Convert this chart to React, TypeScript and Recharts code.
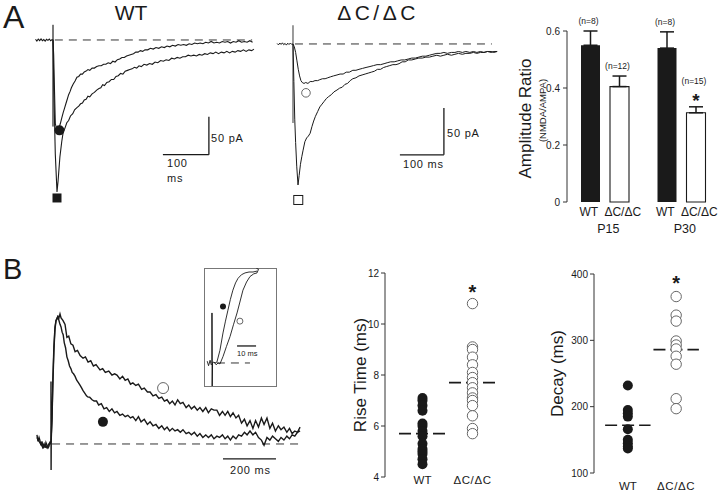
import React from "react";
import {
  Bar,
  BarChart,
  ComposedChart,
  ErrorBar,
  LabelList,
  Line,
  ReferenceDot,
  ReferenceLine,
  Scatter,
  ScatterChart,
  XAxis,
  YAxis,
} from "recharts";

const FONT = '"Liberation Sans", Arial, Helvetica, sans-serif';
const INK = "#1a1a1a";
const GREY = "#7a7a7a";
const RING = "#666";

// ---- panel A traces: [ms, pA] ----
const wtDeep = [
  [-38, 1], [-35, -1.5], [-32, 1.2], [-29, -0.8], [-26, 1.5], [-23, -1], [-20, 0.6], [-17, -1.4], [-14, 1], [-11, -0.5], [-8, 1.3], [-5, -1], [-2, 0.5], [0, 0],
  [2, -70], [5, -150], [8.7, -200], [11, -186], [15, -154], [19, -134], [22, -122], [26, -116], [30, -109], [34, -106], [38, -100], [43, -97], [47, -92], [52, -89],
  [56, -87], [60, -84], [64, -83], [68, -79], [72, -78], [76, -74], [80, -75], [85, -71], [90, -69], [95, -66], [100, -64], [104, -63], [108, -59], [112, -60],
  [117, -56], [122, -55], [127, -52], [132, -52], [137, -48], [142, -47], [147, -44], [152, -45], [157, -41], [162, -40], [167, -39], [172, -38], [177, -36],
  [182, -37], [187, -34], [192, -35], [198, -32], [204, -33], [210, -31], [216, -32], [222, -29], [228, -30], [234, -27], [240, -28], [246, -26], [252, -27],
  [258, -24], [264, -25], [270, -23], [276, -24], [282, -22], [288, -22], [294, -20], [300, -21], [306, -20], [312, -21], [318, -19], [324, -20], [330, -18],
  [336, -19], [342, -17], [348, -18], [354, -16], [360, -18], [366, -16], [372, -17], [378, -15], [384, -17], [390, -15], [396, -16], [402, -14], [408, -15],
  [414, -13], [420, -15], [426, -13], [432, -14], [437, -12],
];
const wtFast = [
  [0, 0], [1.5, -20], [3, -60], [5, -110], [8, -117], [10.9, -119], [13, -116], [16, -110], [19, -103], [22, -96], [25, -90], [28, -84], [31, -78], [34, -72],
  [37, -68], [40, -63], [44, -58], [48, -54], [52, -49], [56, -48], [60, -45], [64, -45], [68, -42], [72, -41], [76, -39], [80, -40], [85, -37], [90, -37],
  [95, -35], [100, -34], [105, -34], [110, -32], [115, -32], [120, -30], [125, -31], [130, -28], [135, -29], [140, -26], [145, -25], [150, -23], [155, -23],
  [160, -21], [165, -20], [170, -19], [175, -18], [180, -16], [185, -16], [190, -14], [195, -15], [200, -13], [206, -13], [212, -11], [218, -12], [224, -10],
  [230, -11], [236, -9], [242, -10], [248, -8], [254, -9], [260, -7], [266, -8], [272, -6], [278, -7], [284, -6], [290, -7], [296, -5], [302, -6], [308, -4],
  [314, -5], [320, -4], [326, -5], [332, -3], [338, -4], [344, -2], [350, -4], [356, -3], [362, -4], [368, -2], [374, -3], [380, -2], [386, -4], [392, -2],
  [398, -3], [404, -1], [410, -3], [416, -2], [422, -3], [428, -1], [434, -3],
];
const wtStim = [[0, 20], [0, -114]];

const dcDeep = [
  [-36, 0.5], [-33, -1], [-30, 1], [-27, -0.5], [-24, 1.2], [-21, -0.8], [-18, 0.6], [-15, -1.2], [-12, 0.8], [-9, -0.6], [-6, 1], [-3, -0.4], [0, 0],
  [2, -40], [4, -80], [6, -105], [8.5, -130], [11.4, -150], [14, -140], [17, -128], [20, -120], [23, -113], [27, -104], [31, -100], [35, -98], [39, -95],
  [43, -88], [47, -82], [51, -77], [56, -72], [61, -67], [66, -64], [71, -61], [76, -58], [81, -56], [87, -54], [93, -51], [100, -49], [106, -47], [112, -46],
  [118, -43], [124, -42], [130, -39], [136, -37], [143, -36], [150, -34], [157, -33], [164, -32], [171, -31], [178, -30], [185, -29], [192, -27], [199, -27],
  [206, -25], [213, -24], [220, -23], [227, -22], [234, -22], [241, -21], [248, -19], [255, -19], [262, -17], [270, -17], [278, -16], [286, -15], [294, -15],
  [302, -14], [310, -14], [318, -13], [327, -12], [335, -13], [343, -12], [351, -11], [360, -12], [368, -11], [376, -10], [385, -11], [393, -10], [402, -10],
  [410, -9], [418, -10], [426, -9], [434, -9], [442, -8], [450, -9], [457, -8], [464, -8],
];
const dcShallow = [
  [0, 0], [3, -3], [6, -9], [9, -18], [12, -27], [15, -34], [18, -39], [21, -41], [25, -42], [29, -41], [34, -42], [39, -40], [45, -40], [50, -39], [56, -39],
  [61, -38], [67, -37], [73, -37], [79, -36], [85, -35], [92, -34], [100, -33], [107, -32], [114, -32], [121, -30], [128, -30], [136, -28], [143, -28],
  [150, -27], [158, -26], [166, -25], [175, -24], [183, -23], [191, -22], [199, -22], [207, -21], [214, -20], [222, -19], [230, -19], [238, -18], [246, -17],
  [254, -17], [262, -16], [270, -15], [278, -15], [286, -14], [294, -13], [302, -13], [310, -12], [318, -11], [327, -10], [335, -10], [343, -9], [351, -10],
  [360, -9], [368, -9], [376, -8], [385, -9], [393, -8], [402, -9], [410, -8], [418, -9], [426, -8], [434, -9], [442, -8], [450, -8], [457, -9], [464, -8],
];
const dcStim = [[0, 20], [0, -84]];

// ---- panel B traces: [ms, normalised] ----
const bSlow = [
  [-53, 0.07], [-49, 0.02], [-45, 0.05], [-42, 0.03], [-38, -0.01], [-34, 0.02], [-30, -0.02], [-26, 0.0], [-22, -0.03], [-19, 0.01], [-15, -0.01],
  [-11, -0.03], [-8, -0.02], [-4, 0.01], [-1, 0.0], [0, 0.03], [0, 0.48], [0.4, -0.2], [1, 0.04], [3.8, 0.18], [7, 0.45], [11, 0.72], [15, 0.88], [19, 0.95],
  [23, 0.96], [26, 0.98], [30, 0.97], [34, 1.0], [38, 0.97], [45, 0.95], [53, 0.92], [60, 0.82], [67, 0.83], [75, 0.77], [83, 0.76], [91, 0.71], [100, 0.72],
  [110, 0.68], [121, 0.66], [130, 0.67], [140, 0.63], [150, 0.64], [160, 0.6], [170, 0.61], [185, 0.57], [195, 0.58], [205, 0.55], [218, 0.56], [230, 0.53],
  [240, 0.54], [249, 0.53], [260, 0.5], [270, 0.52], [280, 0.49], [290, 0.5], [300, 0.46], [309, 0.47], [320, 0.45], [330, 0.46], [342, 0.42], [352, 0.43],
  [364, 0.4], [374, 0.4], [385, 0.37], [396, 0.38], [407, 0.35], [418, 0.36], [428, 0.33], [438, 0.34], [448, 0.31], [458, 0.33], [468, 0.3], [478, 0.34],
  [488, 0.31], [498, 0.32], [510, 0.28], [520, 0.3], [530, 0.27], [541, 0.29], [552, 0.26], [562, 0.28], [573, 0.25], [584, 0.28], [594, 0.24], [605, 0.27],
  [615, 0.26], [626, 0.26], [636, 0.22], [647, 0.25], [657, 0.22], [667, 0.25], [677, 0.21], [687, 0.24], [698, 0.2], [708, 0.22], [719, 0.16], [730, 0.19],
  [740, 0.14], [751, 0.18], [762, 0.12], [772, 0.18], [783, 0.13], [794, 0.2], [804, 0.15], [815, 0.2], [826, 0.12], [836, 0.16], [847, 0.1], [858, 0.14],
  [868, 0.11], [879, 0.13], [890, 0.09], [900, 0.12], [910, 0.08], [920, 0.1], [930, 0.09], [940, 0.13],
];
const bFast = [
  [-53, 0.05], [-45, 0.02], [-38, 0.0], [-30, -0.03], [-22, -0.01], [-15, -0.03], [-8, 0.0], [0, 0.02], [3.8, 0.2], [7, 0.5], [11, 0.75], [15, 0.9],
  [19, 0.95], [23, 0.97], [26, 0.98], [30, 0.95], [34, 0.92], [38, 0.9], [42, 0.86], [46, 0.84], [50, 0.78], [55, 0.74], [60, 0.67], [65, 0.64], [70, 0.6],
  [75, 0.58], [80, 0.55], [85, 0.54], [91, 0.52], [97, 0.49], [104, 0.47], [110, 0.45], [116, 0.43], [121, 0.41], [128, 0.39], [134, 0.37], [140, 0.36],
  [146, 0.36], [155, 0.34], [163, 0.33], [172, 0.33], [180, 0.3], [190, 0.31], [200, 0.27], [210, 0.28], [220, 0.25], [230, 0.27], [240, 0.24], [249, 0.25],
  [260, 0.22], [270, 0.23], [280, 0.21], [290, 0.22], [300, 0.2], [309, 0.21], [320, 0.18], [330, 0.21], [340, 0.17], [352, 0.19], [364, 0.15], [374, 0.17],
  [385, 0.14], [396, 0.15], [407, 0.12], [418, 0.14], [428, 0.11], [438, 0.13], [448, 0.1], [458, 0.12], [468, 0.1], [478, 0.11], [488, 0.09], [498, 0.11],
  [510, 0.08], [520, 0.09], [530, 0.07], [541, 0.09], [552, 0.06], [562, 0.08], [573, 0.05], [584, 0.07], [594, 0.05], [605, 0.07], [615, 0.04], [626, 0.06],
  [636, 0.05], [647, 0.07], [657, 0.04], [667, 0.06], [677, 0.03], [687, 0.06], [698, 0.04], [708, 0.07], [719, 0.06], [730, 0.09], [740, 0.07], [751, 0.1],
  [762, 0.07], [772, 0.09], [783, 0.05], [794, 0.03], [804, -0.01], [815, 0.05], [826, 0.03], [836, 0.06], [847, 0.04], [858, 0.02], [868, 0.05], [879, 0.03],
  [890, 0.06], [900, 0.04], [910, 0.07], [920, 0.06], [930, 0.09], [940, 0.1],
];

// inset (rise phase, ms)
const insetStim = [[0, 0], [0, 0.55], [0.1, -0.28], [0.3, 0]];
const insetFast = [
  [-2.5, 0.02], [-1.8, -0.03], [-1, 0.03], [-0.4, -0.02], [0.6, 0.01], [1.6, 0], [2.6, 0.01], [4.2, 0.14], [5.8, 0.33], [7.1, 0.46], [8.4, 0.58], [9.7, 0.7],
  [11, 0.8], [12.4, 0.88], [13.7, 0.93], [15.5, 0.97], [17.4, 0.99], [19.5, 1.0], [21.6, 1.0], [23.7, 1.01],
];
const insetSlow = [
  [1.2, 0.01], [2.2, -0.02], [3.2, 0], [4.2, -0.01], [5.8, 0.07], [7.6, 0.18], [9.5, 0.29], [11.3, 0.42], [13.2, 0.55], [14.7, 0.67], [16.3, 0.8],
  [18.2, 0.89], [20, 0.95], [22, 0.98], [23.7, 0.99], [24.5, 1.03], [23.4, 1.04],
];

// ---- amplitude ratio bars ----
const ampGroups = ["P15", "P30"];
const ampBarLabels = ["WT", "ΔC/ΔC"];
const ampWT = [0.55, 0.54];
const ampDC = [0.405, 0.313];
const ampErrWT = [0.05, 0.057];
const ampErrDC = [0.037, 0.021];
const ampNWT = [8, 8];
const ampNDC = [12, 15];
const ampStarDC = [false, true];

// ---- scatter panels ----
const groupLabels = ["WT", "ΔC/ΔC"];
const riseWT = [7.1, 7.0, 6.8, 6.6, 6.1, 6.0, 5.8, 5.6, 5.3, 5.1, 5.0, 4.9, 4.7, 4.5];
const riseDC = [10.8, 9.1, 9.0, 8.7, 8.4, 8.1, 7.9, 7.7, 7.5, 7.3, 7.1, 7.0, 6.8, 6.4, 5.9, 5.7];
const riseMedian = [5.7, 7.7];
const riseStar = 11.4;
const decayWT = [232, 195, 190, 185, 166, 150, 145, 140, 137];
const decayDC = [366, 338, 329, 299, 293, 287, 276, 264, 212, 197];
const decayMedian = [172, 286];
const decayStar = 392;

const pts = (a: number[][]) => a.map(([t, v]) => ({ t, v }));

function Marker({ cx, cy, kind, size }: any) {
  if (kind === "fillSquare")
    return <rect x={cx - size / 2} y={cy - size / 2} width={size} height={size} fill={INK} />;
  if (kind === "openSquare")
    return <rect x={cx - size / 2} y={cy - size / 2} width={size} height={size} fill="#fff" stroke={INK} strokeWidth={1} />;
  if (kind === "fillCircle") return <circle cx={cx} cy={cy} r={size} fill={INK} />;
  return <circle cx={cx} cy={cy} r={size} fill="#fff" stroke={RING} strokeWidth={1} />;
}

type Trace = { data: number[][]; color?: string; width?: number };
type Seg = { from: number[]; to: number[]; dashed?: boolean };
type Mark = { at: number[]; kind: string; size: number };

function TraceChart(props: {
  left: number; top: number; width: number; height: number;
  xDomain: number[]; yDomain: number[];
  traces: Trace[]; segs: Seg[]; marks: Mark[];
}) {
  const { left, top, width, height, xDomain, yDomain, traces, segs, marks } = props;
  return (
    <div style={{ position: "absolute", left, top }}>
      <ComposedChart width={width} height={height} margin={{ top: 0, right: 0, bottom: 0, left: 0 }}>
        <XAxis type="number" dataKey="t" domain={xDomain} hide allowDataOverflow />
        <YAxis type="number" domain={yDomain} hide allowDataOverflow />
        {segs.map((s, i) => (
          <ReferenceLine
            key={"s" + i}
            segment={[{ x: s.from[0], y: s.from[1] }, { x: s.to[0], y: s.to[1] }]}
            stroke={s.dashed ? "#333" : INK}
            strokeWidth={s.dashed ? 1 : 1.3}
            strokeDasharray={s.dashed ? "8 6" : undefined}
          />
        ))}
        {traces.map((tr, i) => (
          <Line
            key={"l" + i}
            data={pts(tr.data)}
            dataKey="v"
            type="linear"
            dot={false}
            activeDot={false}
            stroke={tr.color ?? INK}
            strokeWidth={tr.width ?? 1}
            isAnimationActive={false}
          />
        ))}
        {marks.map((m, i) => (
          <ReferenceDot
            key={"m" + i}
            x={m.at[0]}
            y={m.at[1]}
            r={m.size}
            shape={(p: any) => <Marker cx={p.cx} cy={p.cy} kind={m.kind} size={m.size} />}
          />
        ))}
      </ComposedChart>
    </div>
  );
}

function VLabel({ viewBox, text, dx, size }: any) {
  const cx = viewBox.x + dx;
  const cy = viewBox.y + viewBox.height / 2;
  return (
    <text transform={`translate(${cx},${cy}) rotate(-90)`} textAnchor="middle" dominantBaseline="central"
      fontSize={size} fontFamily={FONT} fill={INK}>
      {text}
    </text>
  );
}

function AmpYLabel({ viewBox }: any) {
  const cx = viewBox.x + 20;
  const cy = viewBox.y + viewBox.height / 2;
  return (
    <g fontFamily={FONT} fill={INK}>
      <text transform={`translate(${cx},${cy + 2}) rotate(-90)`} textAnchor="middle" dominantBaseline="central" fontSize={17}>
        Amplitude Ratio
      </text>
      <text transform={`translate(${cx + 17},${cy - 6}) rotate(-90)`} textAnchor="middle" dominantBaseline="central" fontSize={9.5}>
        (NMDA/AMPA)
      </text>
    </g>
  );
}

const PAIR = 14.5;
function AmpTick({ x, y, payload }: any) {
  return (
    <g fontFamily={FONT} fill={INK} fontSize={12}>
      <text x={x - PAIR - 2} y={y + 14} textAnchor="middle">{ampBarLabels[0]}</text>
      <text x={x + PAIR + 3} y={y + 14} textAnchor="middle">{ampBarLabels[1]}</text>
      <text x={x + 3} y={y + 31} textAnchor="middle" fontSize={12.5}>{payload.value}</text>
    </g>
  );
}

function nLabel(vals: number[], errs: number[], ns: number[], stars: boolean[]) {
  return (p: any) => {
    const i = p.value;
    const perUnit = p.height / vals[i];
    const top = p.y - errs[i] * perUnit;
    const cx = p.x + p.width / 2;
    return (
      <g fontFamily={FONT} fill={INK}>
        {stars[i] && (
          <text x={cx} y={top} textAnchor="middle" fontSize={19} fontWeight="bold">*</text>
        )}
        <text x={cx - 2} y={stars[i] ? top - 23 : top - 7} textAnchor="middle" fontSize={8.5}>
          (n={ns[i]})
        </text>
      </g>
    );
  };
}

function AmpChart() {
  const data = ampGroups.map((g, i) => ({
    group: g, wt: ampWT[i], dc: ampDC[i], wtErr: [0, ampErrWT[i]], dcErr: [0, ampErrDC[i]], idx: i,
  }));
  return (
    <div style={{ position: "absolute", left: 505, top: 0 }}>
      <BarChart width={215} height={240} data={data} barGap={10} margin={{ top: 31, right: 0, bottom: 8, left: 0 }}>
        <XAxis dataKey="group" axisLine={false} tickLine={false} tickSize={0} tickMargin={0} height={30} tick={<AmpTick />} interval={0} />
        <YAxis domain={[0, 0.6]} ticks={[0, 0.2, 0.4, 0.6]} width={62} tickSize={4} tickMargin={3} stroke="#333"
          tick={{ fontSize: 10, fill: INK, fontFamily: FONT }} label={<AmpYLabel />} />
        <Bar dataKey="wt" fill={INK} barSize={19} isAnimationActive={false}>
          <ErrorBar dataKey="wtErr" width={7} stroke={INK} strokeWidth={1.5} direction="y" />
          <LabelList dataKey="idx" content={nLabel(ampWT, ampErrWT, ampNWT, [false, false])} />
        </Bar>
        <Bar dataKey="dc" fill="#fff" stroke={INK} strokeWidth={1.1} barSize={19} isAnimationActive={false}>
          <ErrorBar dataKey="dcErr" width={7} stroke={INK} strokeWidth={1.5} direction="y" />
          <LabelList dataKey="idx" content={nLabel(ampDC, ampErrDC, ampNDC, ampStarDC)} />
        </Bar>
      </BarChart>
    </div>
  );
}

function GroupTick({ x, y, payload, dy }: any) {
  return (
    <text x={x} y={y + dy} textAnchor="middle" fontSize={11.5} fontFamily={FONT} fill={INK}
      letterSpacing={payload.value === 2 ? 0.6 : 0}>
      {groupLabels[payload.value - 1]}
    </text>
  );
}

function StarShape({ cx, cy }: any) {
  return <text x={cx} y={cy + 11} textAnchor="middle" fontSize={20} fontWeight="bold" fontFamily={FONT} fill={INK}>*</text>;
}

function DotChart(props: {
  left: number; top: number; width: number; height: number; yWidth: number; xDomain: number[];
  yDomain: number[]; yTicks: number[]; wt: number[]; dc: number[]; medians: number[]; star: number;
  label: string; labelDx: number; tickDy: number; bottom: number; xHeight: number;
}) {
  const p = props;
  const half = 0.47;
  return (
    <div style={{ position: "absolute", left: p.left, top: p.top }}>
      <ScatterChart width={p.width} height={p.height} margin={{ top: 15, right: 0, bottom: p.bottom, left: 0 }}>
        <XAxis type="number" dataKey="x" domain={p.xDomain} ticks={[1, 2]} axisLine={false} tickLine={false}
          tickSize={0} tickMargin={0} height={p.xHeight} tick={<GroupTick dy={p.tickDy} />} allowDataOverflow />
        <YAxis type="number" dataKey="y" domain={p.yDomain} ticks={p.yTicks} width={p.yWidth} tickSize={4} tickMargin={2}
          stroke="#333" tick={{ fontSize: 10, fill: INK, fontFamily: FONT }} allowDataOverflow
          label={<VLabel text={p.label} dx={p.labelDx} size={17} />} />
        <Scatter data={p.wt.map((v) => ({ x: 1, y: v }))} isAnimationActive={false}
          shape={(s: any) => <Marker cx={s.cx} cy={s.cy} kind="fillCircle" size={5} />} />
        <Scatter data={p.dc.map((v) => ({ x: 2, y: v }))} isAnimationActive={false}
          shape={(s: any) => <Marker cx={s.cx} cy={s.cy} kind="openCircle" size={5.2} />} />
        {p.medians.map((m, i) => (
          <ReferenceLine key={i} segment={[{ x: i + 1 - half, y: m }, { x: i + 1 + half, y: m }]}
            stroke={INK} strokeWidth={1.6} strokeDasharray="12 5" />
        ))}
        <ReferenceDot x={2} y={p.star} r={1} shape={(s: any) => <StarShape cx={s.cx} cy={s.cy} />} />
      </ScatterChart>
    </div>
  );
}

export default function App() {
  return (
    <div style={{ position: "fixed", left: 0, top: 0, width: 720, height: 493, background: "#fff", overflow: "hidden", fontFamily: FONT }}>
      <TraceChart
        left={30} top={20} width={235} height={200} xDomain={[-50, 461]} yDomain={[-237, 26.3]}
        traces={[{ data: wtStim, color: GREY, width: 2 }, { data: wtDeep, width: 1.1 }, { data: wtFast, width: 1.1 }]}
        segs={[
          { from: [4, 0], to: [433, 0], dashed: true },
          { from: [339, -101], to: [339, -151] },
          { from: [239, -151], to: [339, -151] },
        ]}
        marks={[{ at: [8.7, -208], kind: "fillSquare", size: 9 }, { at: [14, -119], kind: "fillCircle", size: 5 }]}
      />
      <TraceChart
        left={272} top={20} width={235} height={200} xDomain={[-47.7, 486.4]} yDomain={[-187.3, 25.5]}
        traces={[{ data: dcStim, color: GREY, width: 1.5 }, { data: dcDeep }, { data: dcShallow }]}
        segs={[
          { from: [4.5, 0], to: [452, 0], dashed: true },
          { from: [343, -68], to: [343, -118] },
          { from: [243, -118], to: [343, -118] },
        ]}
        marks={[{ at: [12, -166], kind: "openSquare", size: 9 }, { at: [29.5, -52], kind: "openCircle", size: 4.3 }]}
      />
      <AmpChart />
      <TraceChart
        left={30} top={260} width={280} height={230} xDomain={[-79.2, 977.4]} yDomain={[-0.354, 1.415]}
        traces={[{ data: bFast, width: 1.4 }, { data: bSlow, width: 1.4 }]}
        segs={[
          { from: [4, 0], to: [940, 0], dashed: true },
          { from: [649, -0.115], to: [849, -0.115] },
        ]}
        marks={[{ at: [423, 0.43], kind: "openCircle", size: 5.5 }, { at: [196, 0.17], kind: "fillCircle", size: 5 }]}
      />
      <div style={{ position: "absolute", left: 204, top: 268, width: 71, height: 117, border: "1px solid #777", background: "#fff" }} />
      <TraceChart
        left={204} top={268} width={72} height={118} xDomain={[-4.2, 33.7]} yDomain={[-0.253, 1.044]}
        traces={[{ data: insetStim, width: 1 }, { data: insetFast, width: 0.9 }, { data: insetSlow, width: 0.9 }]}
        segs={[
          { from: [2.6, 0], to: [20, 0], dashed: true },
          { from: [13.2, 0.187], to: [23.2, 0.187] },
        ]}
        marks={[{ at: [5.8, 0.62], kind: "fillCircle", size: 3 }, { at: [14.7, 0.46], kind: "openCircle", size: 3 }]}
      />
      <DotChart
        left={340} top={258} width={170} height={233} yWidth={45} xDomain={[0.25, 2.75]} yDomain={[4, 12]}
        yTicks={[4, 6, 8, 10, 12]} wt={riseWT} dc={riseDC} medians={riseMedian} star={riseStar}
        label="Rise Time (ms)" labelDx={20} tickDy={7} bottom={4} xHeight={10}
      />
      <DotChart
        left={544} top={259} width={166} height={232} yWidth={50} xDomain={[0.3, 2.7]} yDomain={[100, 400]}
        yTicks={[100, 200, 300, 400]} wt={decayWT} dc={decayDC} medians={decayMedian} star={decayStar}
        label="Decay (ms)" labelDx={13} tickDy={17} bottom={0} xHeight={18}
      />
      <svg width={720} height={493} style={{ position: "absolute", left: 0, top: 0, pointerEvents: "none" }}
        fontFamily={FONT} fill={INK}>
        <text x={3} y={28} fontSize={32}>A</text>
        <text x={3} y={279} fontSize={29}>B</text>
        <text x={131} y={20} fontSize={21} textAnchor="middle">WT</text>
        <text x={378} y={20} fontSize={21} textAnchor="middle" letterSpacing={3.5}>ΔC/ΔC</text>
        <text x={211} y={142} fontSize={11} letterSpacing={0.8}>50 pA</text>
        <text x={167} y={167} fontSize={11} letterSpacing={0.8}>100</text>
        <text x={167} y={182} fontSize={11} letterSpacing={0.8}>ms</text>
        <text x={447} y={137} fontSize={11} letterSpacing={0.8}>50 pA</text>
        <text x={403} y={168} fontSize={11} letterSpacing={0.8}>100 ms</text>
        <text x={230} y={474} fontSize={11} letterSpacing={0.8}>200 ms</text>
        <text x={237} y={356} fontSize={7.5}>10 ms</text>
      </svg>
    </div>
  );
}
